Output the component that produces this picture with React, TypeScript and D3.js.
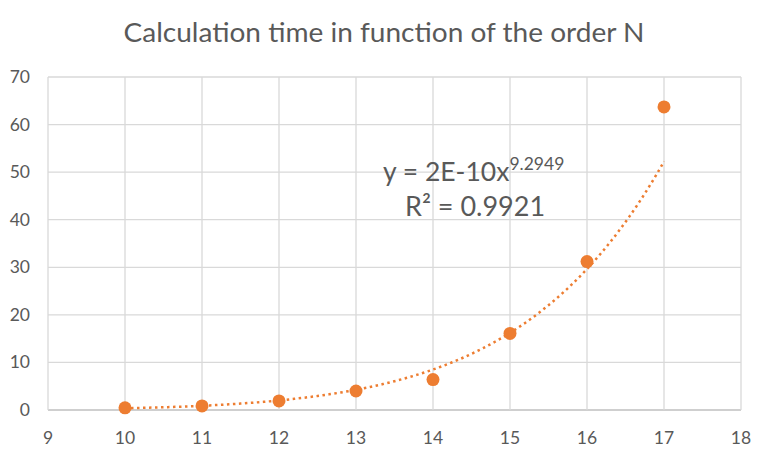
import * as d3 from 'd3';

const orders = [10, 11, 12, 13, 14, 15, 16, 17];
const times = [0.45, 0.85, 1.9, 4.0, 6.4, 16.1, 31.2, 63.7];
const xTicks = [9, 10, 11, 12, 13, 14, 15, 16, 17, 18];
const yTicks = [0, 10, 20, 30, 40, 50, 60, 70];
const title = 'Calculation time in function of the order N';
const eqMain = 'y = 2E-10x';
const eqExp = '9.2949';
const r2Label = 'R² = 0.9921';

const W = 762;
const H = 452;
const margin = { top: 77, right: 21, bottom: 42, left: 48 };
const orange = '#ED7D31';
const grid = '#d9d9d9';
const textCol = '#595959';
const font = 'Lato, "Open Sans", sans-serif';

// power trendline fitted in log space, like Excel does
const powerFit = (xs: number[], ys: number[]) => {
  const lx = xs.map(Math.log);
  const ly = ys.map(Math.log);
  const mx = d3.mean(lx)!;
  const my = d3.mean(ly)!;
  const sxy = d3.sum(lx, (v, i) => (v - mx) * (ly[i] - my));
  const sxx = d3.sum(lx, (v) => (v - mx) ** 2);
  const b = sxy / sxx;
  const a = Math.exp(my - b * mx);
  return (x: number) => a * Math.pow(x, b);
};

export default function App() {
  const x = d3.scaleLinear().domain([9, 18]).range([margin.left, W - margin.right]);
  const y = d3.scaleLinear().domain([0, 70]).range([H - margin.bottom, margin.top]);

  const fit = powerFit(orders, times);
  const trendPts = d3.range(0, 141).map((i) => {
    const xv = 10 + (i / 140) * 7;
    return [xv, fit(xv)] as [number, number];
  });
  const trendPath = d3.line()
    .x((d) => x(d[0]))
    .y((d) => y(d[1]))(trendPts) || '';

  return (
    <svg width={W} height={H} style={{ position: 'absolute', left: 0, top: 0, background: '#fff' }}>
      <rect x={0} y={0} width={W} height={H} fill="#fff" />
      <text x={384} y={42} textAnchor="middle" fontFamily={font} fontSize={26.5} fill={textCol}
        textLength={521} lengthAdjust="spacingAndGlyphs">
        {title}
      </text>

      {/* gridlines */}
      {yTicks.map((t) => (
        <line key={'gy' + t} x1={x(9)} x2={x(18)} y1={y(t)} y2={y(t)}
          stroke={t === 0 ? '#bfbfbf' : grid} strokeWidth={1.3} />
      ))}
      {xTicks.map((t) => (
        <line key={'gx' + t} x1={x(t)} x2={x(t)} y1={y(0)} y2={y(70)}
          stroke={grid} strokeWidth={1.3} />
      ))}

      {/* tick labels */}
      {yTicks.map((t) => (
        <text key={'ly' + t} x={30} y={y(t) + 6} textAnchor="end"
          fontFamily={font} fontSize={17.5} fill={textCol}>{t}</text>
      ))}
      {xTicks.map((t) => (
        <text key={'lx' + t} x={x(t)} y={444} textAnchor="middle"
          fontFamily={font} fontSize={17.5} fill={textCol}>{t}</text>
      ))}

      {/* trendline */}
      <path d={trendPath} fill="none" stroke={orange} strokeWidth={2.5}
        strokeDasharray="2.5 3.5" />

      {/* points */}
      {orders.map((o, i) => (
        <circle key={'p' + o} cx={x(o)} cy={y(times[i])} r={6.5} fill={orange} />
      ))}

      {/* equation */}
      <text x={383} y={181} fontFamily={font} fontSize={26.5} fill={textCol}>
        {eqMain}
        <tspan dy={-11} fontSize={17.5}>{eqExp}</tspan>
      </text>
      <text x={405} y={216} fontFamily={font} fontSize={27} fill={textCol}>
        {r2Label}
      </text>
    </svg>
  );
}
